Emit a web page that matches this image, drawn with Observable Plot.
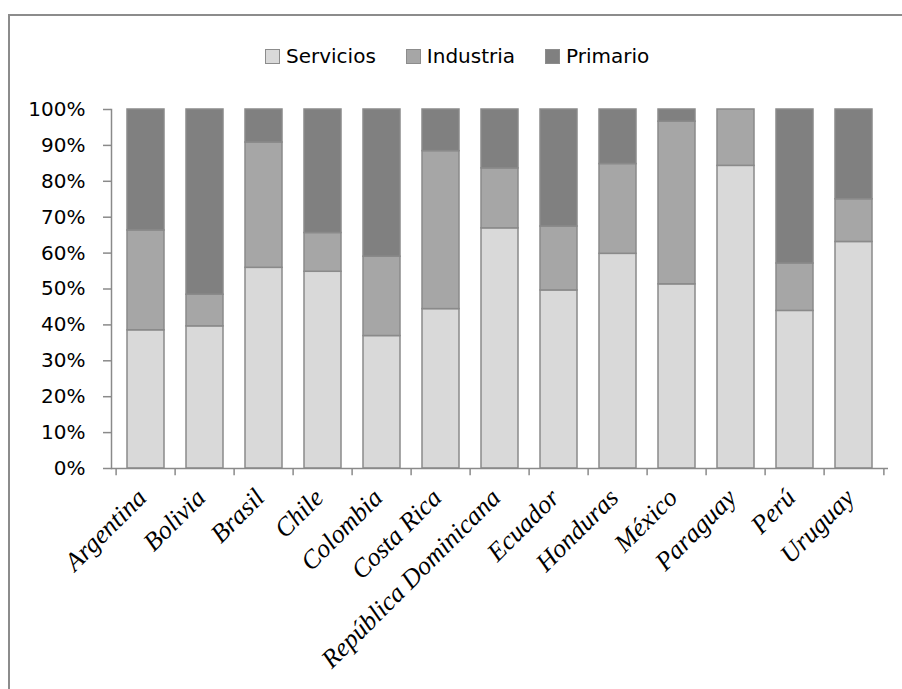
<!DOCTYPE html>
<html><head><meta charset="utf-8">
<script src="https://cdn.jsdelivr.net/npm/d3@7"></script>
<script src="https://cdn.jsdelivr.net/npm/@observablehq/plot@0.6"></script>
<style>
body{margin:0;background:#fff;}
#wrap{position:relative;width:902px;height:689px;overflow:hidden;background:#fff;}
#frame{position:absolute;left:8px;top:14px;width:1000px;height:1000px;border-left:2px solid #8c8c8c;border-top:2px solid #8c8c8c;pointer-events:none;}
#legend{position:absolute;left:0;top:0;width:902px;height:90px;display:flex;align-items:center;padding-left:265px;box-sizing:border-box;font-family:"DejaVu Sans",sans-serif;font-size:20px;color:#000;}
#legend .item{display:flex;align-items:center;margin-right:30px;margin-top:22px;}
#legend .sw{width:13px;height:13px;border:1.5px solid #8c8c8c;margin-right:6px;}
#chart{position:absolute;left:0;top:90px;}
</style>
</head><body>
<div id="wrap"><div id="frame"></div><div id="legend"></div><div id="chart"></div></div>
<script>
const countries = ["Argentina","Bolivia","Brasil","Chile","Colombia","Costa Rica","República Dominicana","Ecuador","Honduras","México","Paraguay","Perú","Uruguay"];
const series = ["Servicios","Industria","Primario"];
const colors = ["#d9d9d9","#a6a6a6","#808080"];
const servicios = [38.5, 39.6, 55.9, 54.8, 36.9, 44.4, 66.9, 49.6, 59.8, 51.3, 84.3, 43.9, 63.1];
const industria = [27.8, 8.8, 34.9, 10.8, 22.1, 44.0, 16.7, 17.8, 25.0, 45.3, 15.7, 13.2, 11.9];
const primario = [33.7, 51.6, 9.2, 34.4, 41.0, 11.6, 16.4, 32.6, 15.2, 3.4, 0.0, 42.9, 25.0];
const yTicks = [0,10,20,30,40,50,60,70,80,90,100];

const valuesBySeries = {Servicios: servicios, Industria: industria, Primario: primario};
const data = [];
series.forEach(s => countries.forEach((c, i) => data.push({country: c, serie: s, value: valuesBySeries[s][i]})));

// legend
const leg = d3.select("#legend");
series.forEach((s, i) => {
  const it = leg.append("div").attr("class", "item");
  it.append("div").attr("class", "sw").style("background", colors[i]);
  it.append("span").text(s);
});

const W = 902, H = 599, ML = 111, MR = 14;
const step = (W - ML - MR) / countries.length;

const plot = Plot.plot({
  width: W, height: H,
  marginTop: 19, marginBottom: 221, marginLeft: ML, marginRight: MR,
  style: {fontFamily: "DejaVu Sans, sans-serif", fontSize: "20px", color: "#000", background: "transparent"},
  x: {domain: countries, paddingInner: 0.38, paddingOuter: 0.19, label: null},
  y: {domain: [0, 100], label: null},
  color: {domain: series, range: colors},
  marks: [
    Plot.barY(data, Plot.stackY({order: series}, {x: "country", y: "value", fill: "serie", stroke: "#8a8a8a", strokeWidth: 1.5})),
    Plot.ruleX(countries, {x: d => d, y1: 0, y2: -2, dx: -step / 2, stroke: "#8a8a8a", strokeWidth: 1.5}),
    Plot.ruleX([countries[countries.length - 1]], {x: d => d, y1: 0, y2: -2, dx: step / 2, stroke: "#8a8a8a", strokeWidth: 1.5}),
    Plot.ruleY([0], {stroke: "#8a8a8a", strokeWidth: 1.5}),
    Plot.frame({anchor: "left", stroke: "#8a8a8a", strokeWidth: 1.5}),
    Plot.axisY({ticks: yTicks, tickFormat: d => d + "%", tickSize: 8, tickPadding: 18, stroke: "#8a8a8a", strokeWidth: 1.5, fontSize: 20}),
    Plot.axisX({tickSize: 0, tickRotate: -45, tickPadding: 25, dx: -4, fontSize: 26, fontFamily: "Liberation Serif, serif", fontStyle: "italic"})
  ]
});
document.getElementById("chart").appendChild(plot);
</script>
</body></html>
